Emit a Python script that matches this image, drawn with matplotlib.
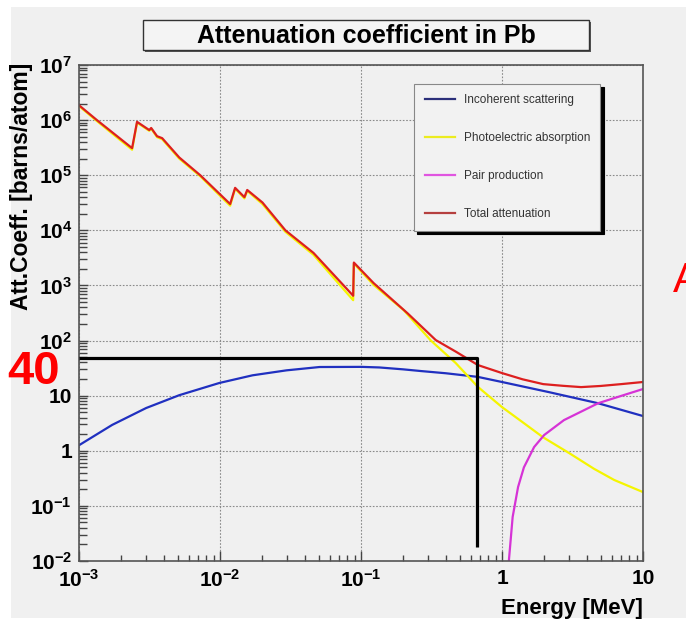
import matplotlib.pyplot as plt
import numpy as np
from matplotlib.patches import Rectangle
from matplotlib.ticker import LogLocator, NullFormatter

plt.rcParams['font.family'] = ['Liberation Sans', 'DejaVu Sans']
plt.rcParams['mathtext.fontset'] = 'custom'
plt.rcParams['mathtext.rm'] = 'Liberation Sans:bold'
plt.rcParams['mathtext.default'] = 'rm'

# energies in MeV, cross sections in barns/atom
e_total = [1.0e-3, 1.34e-3, 2.38e-3, 2.58e-3, 3.15e-3, 3.25e-3, 3.58e-3, 3.89e-3,
           5.14e-3, 7.24e-3, 1.18e-2, 1.28e-2, 1.49e-2, 1.56e-2, 2.0e-2, 2.91e-2,
           4.6e-2, 8.8e-2, 8.9e-2, 0.123, 0.214, 0.339, 0.47, 0.675, 1.0, 1.4,
           1.96, 2.7, 3.64, 5.0, 7.0, 10.0]
total = [1.86e6, 1.0e6, 3.1e5, 9.3e5, 6.6e5, 7.2e5, 5.1e5, 4.7e5,
         2.1e5, 1.0e5, 3.0e4, 5.9e4, 4.0e4, 5.4e4, 3.2e4, 1.0e4,
         3.9e3, 650, 2.6e3, 1.1e3, 312, 102, 63, 35.9, 25.7, 19.8,
         16.2, 15.1, 14.3, 15.0, 16.2, 17.7]

e_photo = [1.0e-3, 1.34e-3, 2.38e-3, 2.58e-3, 3.15e-3, 3.25e-3, 3.58e-3, 3.89e-3,
           5.14e-3, 7.24e-3, 1.18e-2, 1.28e-2, 1.49e-2, 1.56e-2, 2.0e-2, 2.91e-2,
           4.6e-2, 8.8e-2, 8.9e-2, 0.123, 0.201, 0.313, 0.47, 0.675, 1.0, 1.4,
           1.96, 2.99, 4.5, 6.25, 10.0]
photo = [1.80e6, 9.6e5, 2.9e5, 9.0e5, 6.4e5, 7.0e5, 4.9e5, 4.5e5,
         2.0e5, 9.6e4, 2.8e4, 5.7e4, 3.8e4, 5.2e4, 3.0e4, 9.4e3,
         3.6e3, 540, 2.5e3, 1.02e3, 355, 100, 39, 14.4, 6.2, 3.3,
         1.75, 0.91, 0.47, 0.295, 0.178]

e_incoh = [1.0e-3, 1.72e-3, 2.99e-3, 5.14e-3, 9.9e-3, 1.70e-2, 2.96e-2, 5.08e-2,
           0.101, 0.135, 0.2, 0.265, 0.4, 0.675, 1.0, 2.15, 4.79, 10.0]
incoh = [1.26, 2.95, 5.96, 10.2, 17.0, 23.4, 28.8, 33.1,
         33.3, 32.5, 30.0, 28.0, 25.5, 21.9, 17.7, 11.6, 7.3, 4.27]

e_pair = [1.11, 1.19, 1.30, 1.43, 1.69, 1.99, 2.75, 4.81, 7.0, 10.0]
pair = [0.008, 0.063, 0.22, 0.50, 1.17, 1.93, 3.6, 7.3, 9.9, 13.2]

series_names = ['Incoherent scattering', 'Photoelectric absorption',
                'Pair production', 'Total attenuation']

xtick_vals = [1e-3, 1e-2, 1e-1, 1, 10]
xtick_labels = ['$10^{-3}$', '$10^{-2}$', '$10^{-1}$', '1', '10']
ytick_vals = [1e-2, 1e-1, 1, 10, 1e2, 1e3, 1e4, 1e5, 1e6, 1e7]
ytick_labels = ['$10^{-2}$', '$10^{-1}$', '1', '10', '$10^{2}$', '$10^{3}$',
                '$10^{4}$', '$10^{5}$', '$10^{6}$', '$10^{7}$']

# the hand drawn marker (Cs-137 line)
marker_energy = 0.66
marker_value = 48
marker_floor = 0.018

W, H = 686, 621
fig = plt.figure(figsize=(W / 100, H / 100), dpi=100)
fig.patch.set_facecolor('white')
fig.patches.append(Rectangle((11 / W, 1 - 618 / H), 675 / W, 611 / H,
                             transform=fig.transFigure, facecolor='#f0f0f0',
                             edgecolor='none', zorder=-10))

ax = fig.add_axes([79 / W, 1 - 561 / H, 564 / W, 496 / H])
ax.set_facecolor('#f0f0f0')

ax.plot(e_incoh, incoh, color='#2030c0', lw=1.6, label=series_names[0])
ax.plot(e_photo, photo, color='#f5f500', lw=1.6, label=series_names[1])
ax.plot(e_pair, pair, color='#d633d6', lw=1.6, label=series_names[2])
ax.plot(e_total, total, color='#dd1f1f', lw=1.6, label=series_names[3])

ax.plot([xtick_vals[0], marker_energy, marker_energy],
        [marker_value, marker_value, marker_floor],
        color='black', lw=2.3, clip_on=False, zorder=5, solid_capstyle='butt')

ax.set_xscale('log')
ax.set_yscale('log')
ax.set_xlim(1e-3, 10)
ax.set_ylim(1e-2, 1e7)

ax.set_xticks(xtick_vals, xtick_labels, fontsize=15, fontweight='bold')
ax.set_yticks(ytick_vals, ytick_labels, fontsize=15, fontweight='bold')
ax.xaxis.set_minor_locator(LogLocator(base=10, subs=np.arange(2, 10), numticks=20))
ax.yaxis.set_minor_locator(LogLocator(base=10, subs=np.arange(2, 10), numticks=20))
ax.xaxis.set_minor_formatter(NullFormatter())
ax.yaxis.set_minor_formatter(NullFormatter())

ax.tick_params(axis='x', which='major', direction='in', length=7, width=1,
               color='#444444', pad=6)
ax.tick_params(axis='x', which='minor', direction='in', length=4.3, width=1,
               color='#444444')
ax.tick_params(axis='y', which='major', direction='in', length=6.5, width=1,
               color='#444444', pad=5)
ax.tick_params(axis='y', which='minor', direction='in', length=5.5, width=1,
               color='#444444')

ax.grid(True, which='major', color='#8a8a8a', linestyle=(0, (1.5, 1.5)), lw=0.8)
for s in ax.spines.values():
    s.set_color('#555555')
    s.set_linewidth(1.2)

ax.set_xlabel('Energy [MeV]', fontsize=16, fontweight='bold', loc='right')
ax.xaxis.set_label_coords(1.0, -0.075)
ax.set_ylabel('Att.Coeff. [barns/atom]', fontsize=16.5, fontweight='bold', loc='top')
ax.yaxis.set_label_coords(-0.082, 1.004)

leg = ax.legend(loc='upper left', bbox_to_anchor=(0.594, 0.962, 0.330, 0.0),
                mode='expand', borderaxespad=0, fontsize=8.5, labelspacing=2.2,
                borderpad=0.9, handlelength=2.6, handletextpad=0.7,
                fancybox=False, framealpha=1,
                shadow={'ox': 2.5, 'oy': -2.5, 'facecolor': 'black',
                        'edgecolor': 'black', 'alpha': 1})
leg.get_frame().set_facecolor('#f2f2f2')
leg.get_frame().set_edgecolor('#888888')
leg.get_frame().set_linewidth(0.8)
for line, c in zip(leg.get_lines(), ['#2b2f7a', '#ecec20', '#e055e0', '#b5403f']):
    line.set_color(c)
    line.set_linewidth(1.6)
for t in leg.get_texts():
    t.set_color('#333333')

# title box
fig.patches.append(Rectangle((145 / W, 1 - 52 / H), 446 / W, 30 / H,
                             transform=fig.transFigure, facecolor='#555555',
                             edgecolor='none', zorder=1))
fig.patches.append(Rectangle((143 / W, 1 - 50 / H), 446 / W, 30 / H,
                             transform=fig.transFigure, facecolor='#f4f4f4',
                             edgecolor='#333333', lw=1, zorder=2))
fig.text(366 / W, 1 - 36 / H, 'Attenuation coefficient in Pb', fontsize=18,
         fontweight='bold', ha='center', va='center', zorder=3)

fig.text(34 / W, 1 - 384 / H, '40', color='red', fontsize=34,
         fontweight='bold', ha='center', va='baseline')
fig.text(673 / W, 1 - 292 / H, 'A', color='red', fontsize=30,
         ha='left', va='baseline')

fig.savefig('out.png', dpi=100)
